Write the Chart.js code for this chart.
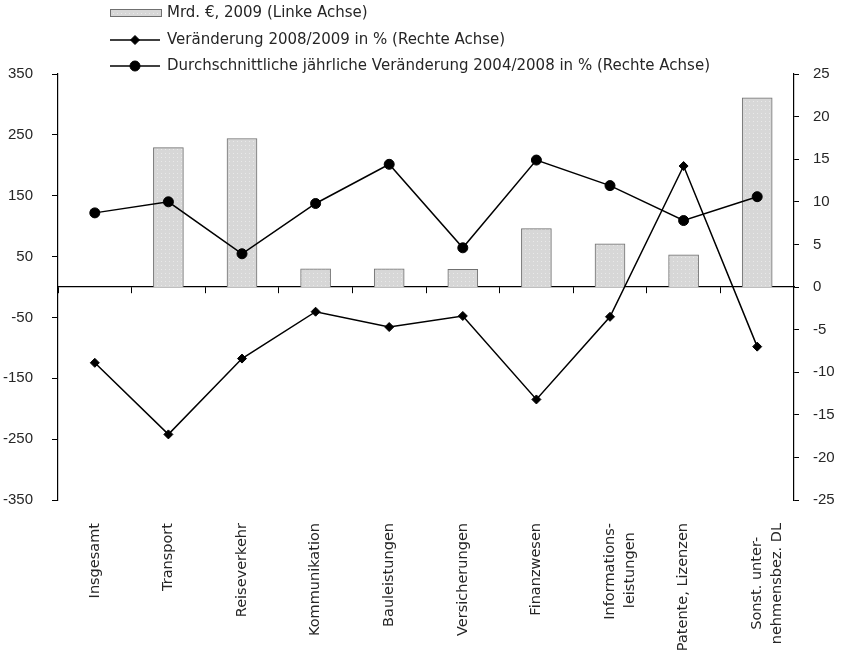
<!DOCTYPE html>
<html>
<head>
<meta charset="utf-8">
<script src="https://cdn.jsdelivr.net/npm/chart.js@4/dist/chart.umd.min.js"></script>
<style>
  html, body { margin: 0; padding: 0; background: #ffffff; }
  #wrap { width: 846px; height: 656px; }
</style>
</head>
<body>
<div id="wrap"><canvas id="chart" width="846" height="656"></canvas></div>
<script>
// Dienstleistungen nach Bereichen: Volumen 2009 und Veränderungsraten
// (trailing no-break spaces centre the shorter line of a two-line rotated label)
const categories = [
  'Insgesamt',
  'Transport',
  'Reiseverkehr',
  'Kommunikation',
  'Bauleistungen',
  'Versicherungen',
  'Finanzwesen',
  ['Informations-', 'leistungen\u00A0\u00A0'],
  'Patente, Lizenzen',
  ['Sonst. unter-\u00A0\u00A0\u00A0', 'nehmensbez. DL']
];

const seriesNames = [
  'Mrd. €, 2009 (Linke Achse)',
  'Veränderung 2008/2009 in % (Rechte Achse)',
  'Durchschnittliche jährliche Veränderung 2004/2008 in % (Rechte Achse)'
];

// Mrd. €, 2009 (left axis); no bar for "Insgesamt"
const volume2009 = [null, 229, 244, 30, 30, 29, 96, 71, 53, 311];

// Veränderung 2008/2009 in % (right axis)
const change2008to2009 = [-8.9, -17.3, -8.4, -2.9, -4.7, -3.4, -13.2, -3.5, 14.2, -7.0];

// Durchschnittliche jährliche Veränderung 2004/2008 in % (right axis)
const avgChange2004to2008 = [8.7, 10.0, 3.9, 9.8, 14.4, 4.6, 14.9, 11.9, 7.8, 10.6];

const leftTicks = [-350, -250, -150, -50, 50, 150, 250, 350];
const rightTicks = [-25, -20, -15, -10, -5, 0, 5, 10, 15, 20, 25];

const TEXT_FONT = 'DejaVu Sans';
const NUM_FONT = 'Liberation Sans';
const TEXT_SIZE = 15;
const LABEL_SIZE = 14.5;
const TEXT_COLOR = '#262626';

const canvas = document.getElementById('chart');
const ctx = canvas.getContext('2d');

// light grey fill with a fine dot texture for the bars
function dottedFill() {
  const p = document.createElement('canvas');
  p.width = 4; p.height = 4;
  const g = p.getContext('2d');
  g.fillStyle = '#d7d7d7';
  g.fillRect(0, 0, 4, 4);
  g.fillStyle = '#e9e9e9';
  g.fillRect(1, 1, 1, 1);
  return ctx.createPattern(p, 'repeat');
}

// vertical legend drawn above the plot area, styled from the datasets
const stackedLegend = {
  id: 'stackedLegend',
  afterDraw(chart) {
    const c = chart.ctx;
    const rows = [13, 40, 66];
    const x0 = 110, x1 = 162, textX = 167;
    c.save();
    chart.data.datasets.forEach((ds, i) => {
      const y = rows[i];
      if (ds.type === 'bar') {
        c.fillStyle = ds.backgroundColor;
        c.fillRect(x0, y - 4, x1 - x0, 8);
        c.strokeStyle = ds.borderColor;
        c.lineWidth = 1;
        c.strokeRect(x0 + 0.5, y - 3.5, x1 - x0 - 1, 7);
      } else {
        c.strokeStyle = ds.borderColor;
        c.lineWidth = ds.borderWidth;
        c.beginPath();
        c.moveTo(x0, y);
        c.lineTo(x1 - 2, y);
        c.stroke();
        c.fillStyle = ds.pointBackgroundColor;
        c.strokeStyle = ds.pointBorderColor;
        c.lineWidth = 1;
        Chart.helpers.drawPoint(c, {
          pointStyle: ds.pointStyle,
          radius: ds.pointRadius,
          rotation: 0,
          borderWidth: 1
        }, (x0 + x1 - 2) / 2, y);
      }
      c.fillStyle = TEXT_COLOR;
      c.font = TEXT_SIZE + 'px "' + TEXT_FONT + '"';
      c.textBaseline = 'middle';
      c.textAlign = 'left';
      c.fillText(ds.label, textX, y);
    });
    c.restore();
  }
};

const chart = new Chart(ctx, {
  data: {
    labels: categories,
    datasets: [
      {
        type: 'bar',
        label: seriesNames[0],
        data: volume2009,
        yAxisID: 'y',
        backgroundColor: dottedFill(),
        borderColor: '#707070',
        borderWidth: 1,
        barThickness: 30,
        order: 3
      },
      {
        type: 'line',
        label: seriesNames[1],
        data: change2008to2009,
        yAxisID: 'y1',
        borderColor: '#000000',
        borderWidth: 1.5,
        pointStyle: 'rectRot',
        pointRadius: 4.5,
        pointBackgroundColor: '#000000',
        pointBorderColor: '#000000',
        pointBorderWidth: 1,
        tension: 0,
        order: 1
      },
      {
        type: 'line',
        label: seriesNames[2],
        data: avgChange2004to2008,
        yAxisID: 'y1',
        borderColor: '#000000',
        borderWidth: 1.5,
        pointStyle: 'circle',
        pointRadius: 5,
        pointBackgroundColor: '#000000',
        pointBorderColor: '#000000',
        pointBorderWidth: 1,
        tension: 0,
        order: 2
      }
    ]
  },
  options: {
    responsive: false,
    animation: false,
    devicePixelRatio: 1,
    layout: { padding: { top: 74, left: 0, right: 0, bottom: 0 } },
    plugins: {
      legend: { display: false },
      tooltip: { enabled: false }
    },
    scales: {
      x: {
        type: 'category',
        position: 'bottom',
        offset: true,
        grid: { display: false, drawTicks: false },
        border: { display: false },
        ticks: {
          autoSkip: false,
          minRotation: 90,
          maxRotation: 90,
          padding: 23,
          color: TEXT_COLOR,
          font: { family: TEXT_FONT, size: LABEL_SIZE, lineHeight: 1.4 }
        },
        afterFit(scale) { scale.height = 156; }
      },
      xZero: {
        type: 'category',
        position: { y: 0 },
        offset: true,
        grid: {
          offset: true,
          drawOnChartArea: false,
          drawTicks: true,
          tickLength: 6,
          color: '#000000',
          lineWidth: 1
        },
        border: { display: true, color: '#000000', width: 1.2 },
        ticks: { display: false }
      },
      y: {
        type: 'linear',
        position: 'left',
        min: -350,
        max: 350,
        afterBuildTicks(scale) { scale.ticks = leftTicks.map(v => ({ value: v })); },
        grid: { drawOnChartArea: false, drawTicks: true, tickLength: 6, color: '#000000' },
        border: { display: true, color: '#000000', width: 1.2 },
        ticks: {
          padding: 19,
          color: TEXT_COLOR,
          font: { family: NUM_FONT, size: TEXT_SIZE },
          callback: v => String(v)
        },
        afterFit(scale) { scale.width = 58; }
      },
      y1: {
        type: 'linear',
        position: 'right',
        min: -25,
        max: 25,
        afterBuildTicks(scale) { scale.ticks = rightTicks.map(v => ({ value: v })); },
        grid: { drawOnChartArea: false, drawTicks: true, tickLength: 5, color: '#000000' },
        border: { display: true, color: '#000000', width: 1.2 },
        ticks: {
          padding: 14,
          color: TEXT_COLOR,
          font: { family: NUM_FONT, size: TEXT_SIZE },
          callback: v => String(v)
        },
        afterFit(scale) { scale.width = 52; }
      }
    }
  },
  plugins: [stackedLegend]
});
</script>
</body>
</html>
